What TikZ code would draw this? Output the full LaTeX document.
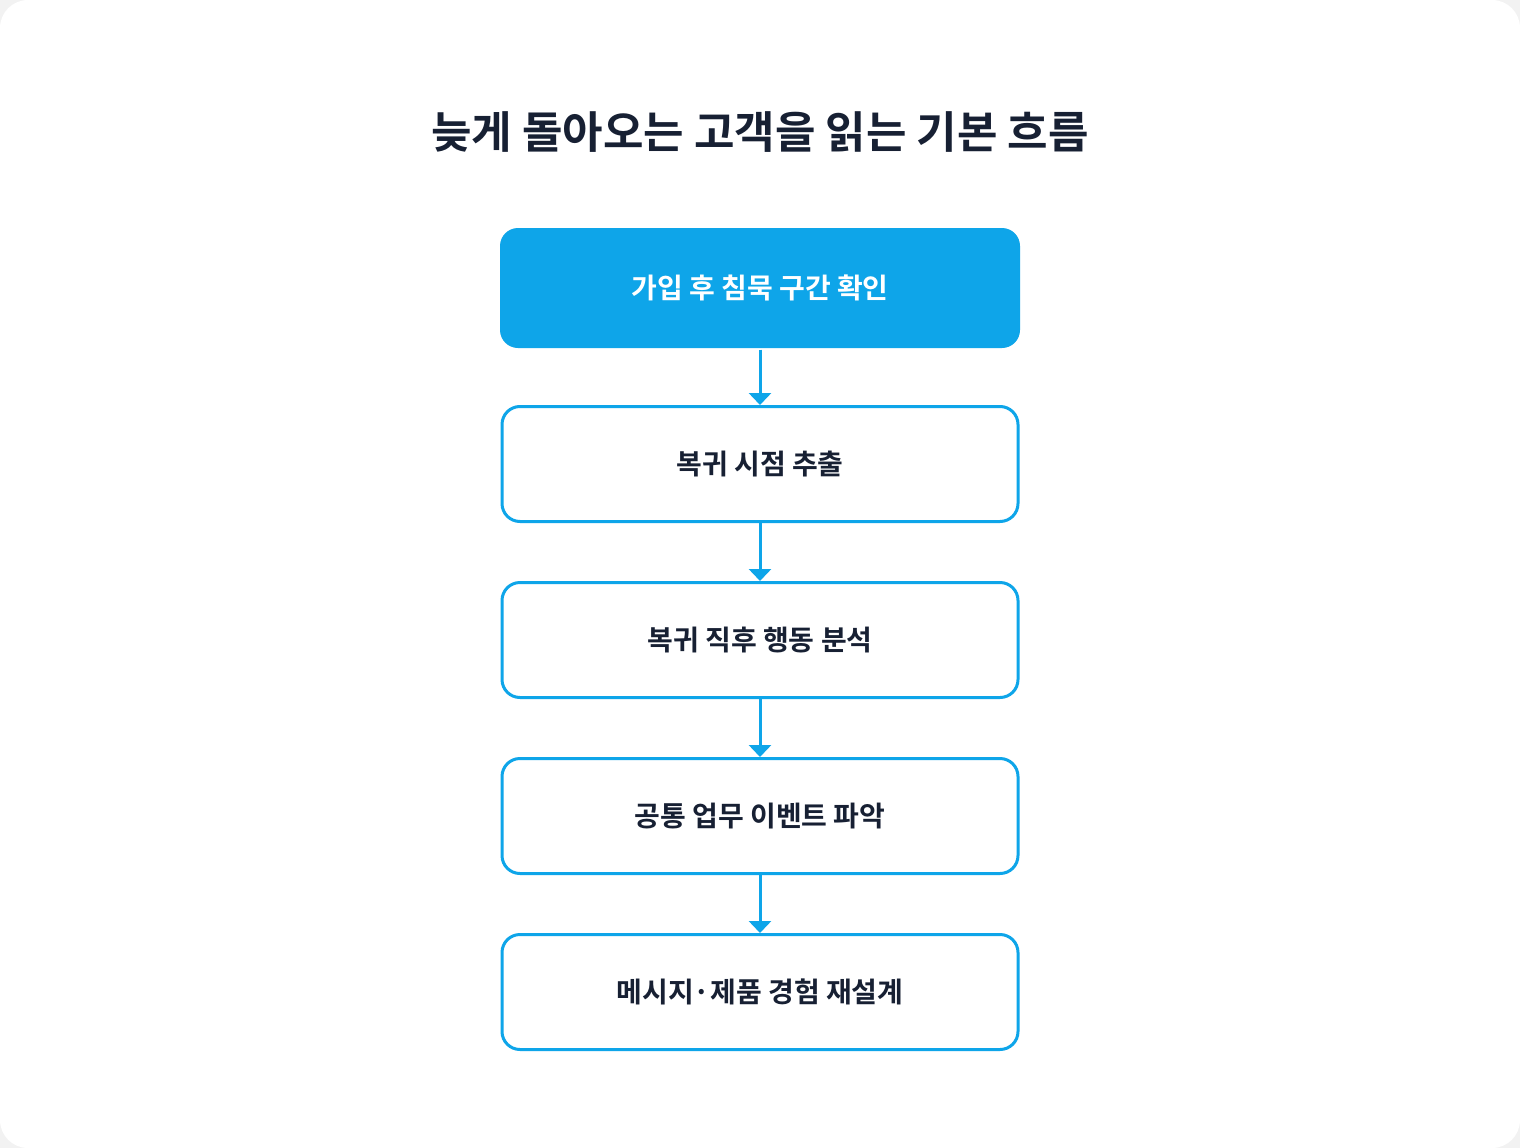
\documentclass[tikz,border=0pt]{standalone}
\usepackage{fontspec}
\setmainfont{Noto Sans CJK KR}
\newfontfamily\krbold{Noto Sans CJK KR Bold}
\usetikzlibrary{positioning,arrows.meta}
\definecolor{skyblue}{HTML}{0EA5E9}
\definecolor{inkdark}{HTML}{172033}
\tikzset{
  stepbox/.style={draw=skyblue,line width=3pt,rounded corners=18pt,fill=white,
    minimum width=516pt,minimum height=115pt,font=\krbold\fontsize{28}{32}\selectfont,text=inkdark},
  firstbox/.style={stepbox,fill=skyblue,text=white},
  flow/.style={draw=skyblue,line width=3pt,-{Triangle[width=22pt,length=12pt]}}
}
\begin{document}
\begin{tikzpicture}[x=1pt,y=-1pt]
\fill[black!5] (0,0) rectangle (1520,1148);
\fill[white,rounded corners=28pt] (0,0) rectangle (1520,1148);
\useasboundingbox (0,0) rectangle (1520,1148);

\node[font=\krbold\fontsize{44}{50}\selectfont,text=inkdark] (title) at (760,132) {늦게 돌아오는 고객을 읽는 기본 흐름};

\node[firstbox,draw=none,minimum width=520pt,minimum height=120pt] (s1) at (760,288) {가입 후 침묵 구간 확인};
\node[stepbox] (s2) at (760,464) {복귀 시점 추출};
\node[stepbox] (s3) at (760,640) {복귀 직후 행동 분석};
\node[stepbox] (s4) at (760,816) {공통 업무 이벤트 파악};
\node[stepbox] (s5) at (760,992) {메시지·제품 경험 재설계};

\foreach \a/\b in {s1/s2,s2/s3,s3/s4,s4/s5} {
  \draw[flow] (\a.south) -- (\b.north);
}
\end{tikzpicture}
\end{document}
